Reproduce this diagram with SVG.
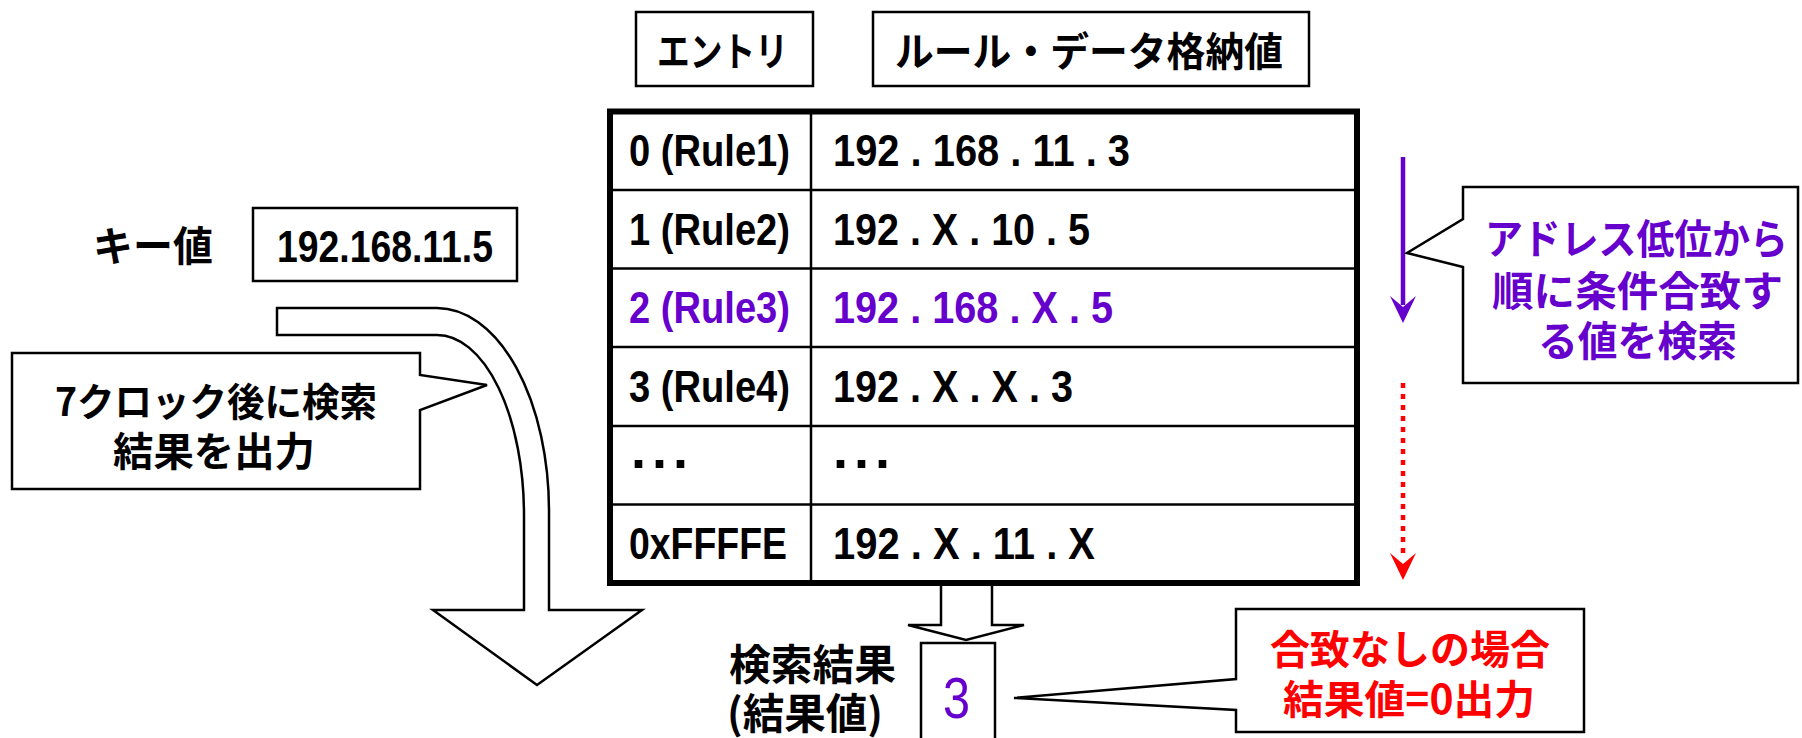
<svg xmlns="http://www.w3.org/2000/svg" width="1802" height="738" viewBox="0 0 1802 738">
<style>
.jp{font-family:"Noto Sans CJK JP","Noto Sans CJK SC",sans-serif;font-weight:bold;}
.num{font-family:"Liberation Sans",Arial,sans-serif;font-weight:bold;font-size:44px;}
.box{fill:#fff;stroke:#000;stroke-width:2.5;}
.purple{fill:#6600CC;}
.red{fill:#FF0000;}
.blk{fill:#000;}
</style>
<rect width="1802" height="738" fill="#fff"/>

<g id="connectors">
  <path id="curved-arrow" class="box" d="M277,308 L437,308 A112,203 0 0 1 549,511 L549,610 L642,610 L537,685 L433,610 L524,610 L524,515 A87,180 0 0 0 437,335 L277,335 Z"/>
  <path id="result-arrow" class="box" d="M941,579 L992,579 L992,625 L1024,625 L966,640 L908,625 L941,625 Z"/>
  <g id="purple-arrow">
    <line x1="1403" y1="157" x2="1403" y2="305" stroke="#6600CC" stroke-width="4.5"/>
    <path d="M1390,296 L1403,323 L1416,296 L1403,307 Z" fill="#6600CC"/>
  </g>
  <g id="red-arrow">
    <line x1="1403" y1="383" x2="1403" y2="556" stroke="#FF0000" stroke-width="4.5" stroke-dasharray="5 6"/>
    <path d="M1390,553 L1403,580 L1416,553 L1403,564 Z" fill="#FF0000"/>
  </g>
</g>

<g id="key-label">
  <text class="jp blk" x="93" y="261" font-size="41" textLength="120" lengthAdjust="spacingAndGlyphs">キー値</text>
</g>
<g id="key-box">
  <rect class="box" x="253" y="208" width="264" height="73"/>
  <text class="num blk" x="277" y="262" font-size="40" textLength="216" lengthAdjust="spacingAndGlyphs">192.168.11.5</text>
</g>

<g id="callout-clock">
  <path class="box" d="M12,353 L420,353 L420,375 L487,385 L420,410 L420,489 L12,489 Z"/>
  <text class="jp blk" x="55" y="416" font-size="39" textLength="322" lengthAdjust="spacingAndGlyphs">7クロック後に検索</text>
  <text class="jp blk" x="113" y="466" font-size="40" textLength="202" lengthAdjust="spacingAndGlyphs">結果を出力</text>
</g>

<g id="header-entry">
  <rect class="box" x="636" y="12" width="177" height="74"/>
  <text class="jp blk" x="657" y="66" font-size="40" textLength="131" lengthAdjust="spacingAndGlyphs">エントリ</text>
</g>
<g id="header-rule">
  <rect class="box" x="873" y="12" width="436" height="74"/>
  <text class="jp blk" x="895" y="66" font-size="40" textLength="388" lengthAdjust="spacingAndGlyphs">ルール・データ格納値</text>
</g>

<g id="table">
  <rect x="610" y="111.5" width="747" height="471.5" fill="#fff" stroke="#000" stroke-width="6"/>
  <g stroke="#000" stroke-width="2.5">
    <line x1="610" y1="190" x2="1357" y2="190"/>
    <line x1="610" y1="268.5" x2="1357" y2="268.5"/>
    <line x1="610" y1="347" x2="1357" y2="347"/>
    <line x1="610" y1="426" x2="1357" y2="426"/>
    <line x1="610" y1="504.5" x2="1357" y2="504.5"/>
    <line x1="811" y1="111.5" x2="811" y2="583"/>
  </g>
  <g id="row0" class="num blk">
    <text x="629" y="166" textLength="161" lengthAdjust="spacingAndGlyphs">0 (Rule1)</text>
    <text x="833" y="166" textLength="297" lengthAdjust="spacingAndGlyphs">192 . 168 . 11 . 3</text>
  </g>
  <g id="row1" class="num blk">
    <text x="629" y="244.5" textLength="161" lengthAdjust="spacingAndGlyphs">1 (Rule2)</text>
    <text x="833" y="244.5" textLength="257" lengthAdjust="spacingAndGlyphs">192 . X . 10 . 5</text>
  </g>
  <g id="row2" class="num purple">
    <text x="629" y="323" textLength="161" lengthAdjust="spacingAndGlyphs">2 (Rule3)</text>
    <text x="833" y="323" textLength="280" lengthAdjust="spacingAndGlyphs">192 . 168 . X . 5</text>
  </g>
  <g id="row3" class="num blk">
    <text x="629" y="401.5" textLength="161" lengthAdjust="spacingAndGlyphs">3 (Rule4)</text>
    <text x="833" y="401.5" textLength="240" lengthAdjust="spacingAndGlyphs">192 . X . X . 3</text>
  </g>
  <g id="row4" class="blk" font-family="Liberation Sans, Arial, sans-serif" font-weight="bold" font-size="54" letter-spacing="6">
    <text x="631" y="468">...</text>
    <text x="833" y="468">...</text>
  </g>
  <g id="row5" class="num blk">
    <text x="629" y="559" textLength="158" lengthAdjust="spacingAndGlyphs">0xFFFFE</text>
    <text x="833" y="559" textLength="262" lengthAdjust="spacingAndGlyphs">192 . X . 11 . X</text>
  </g>
</g>

<g id="callout-search">
  <path class="box" d="M1463,187 L1798,187 L1798,383 L1463,383 L1463,267 L1407,253 L1463,219 Z"/>
  <text class="jp purple" x="1485" y="254" font-size="41" textLength="303" lengthAdjust="spacingAndGlyphs">アドレス低位から</text>
  <text class="jp purple" x="1492" y="306" font-size="41" textLength="291" lengthAdjust="spacingAndGlyphs">順に条件合致す</text>
  <text class="jp purple" x="1538" y="356" font-size="41" textLength="199" lengthAdjust="spacingAndGlyphs">る値を検索</text>
</g>

<g id="result-label">
  <text class="jp blk" x="729" y="680" font-size="42" textLength="167" lengthAdjust="spacingAndGlyphs">検索結果</text>
  <text class="jp blk" x="727" y="729" font-size="42" textLength="156" lengthAdjust="spacingAndGlyphs">(結果値)</text>
</g>
<g id="result-box">
  <rect class="box" x="921" y="643" width="74" height="110"/>
  <text class="purple" x="943" y="718" font-family="Liberation Sans, Arial, sans-serif" font-size="57" textLength="27" lengthAdjust="spacingAndGlyphs">3</text>
</g>

<g id="callout-nomatch">
  <path class="box" d="M1236,609 L1584,609 L1584,732 L1236,732 L1236,710 L1014,698 L1236,679 Z"/>
  <text class="jp red" x="1270" y="664" font-size="40" textLength="280" lengthAdjust="spacingAndGlyphs">合致なしの場合</text>
  <text class="jp red" x="1283" y="714" font-size="40" textLength="252" lengthAdjust="spacingAndGlyphs">結果値=0出力</text>
</g>
</svg>
